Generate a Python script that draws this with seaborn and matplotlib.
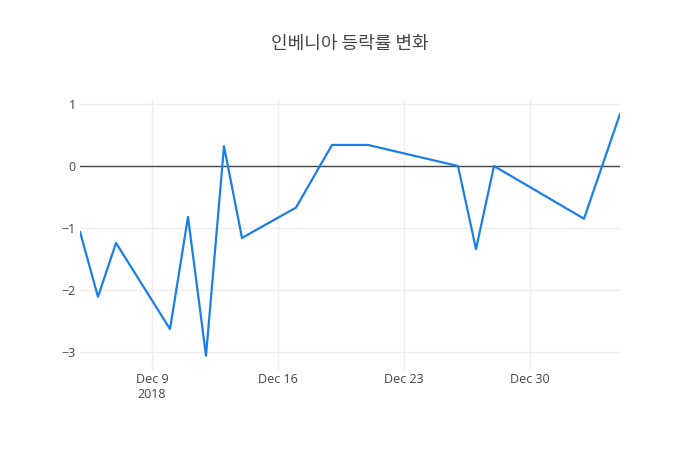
import matplotlib
matplotlib.use("Agg")
import matplotlib.pyplot as plt
import seaborn as sns
import pandas as pd
import numpy as np

dates = ["2018-12-05", "2018-12-06", "2018-12-07", "2018-12-10", "2018-12-11",
         "2018-12-12", "2018-12-13", "2018-12-14", "2018-12-17", "2018-12-19",
         "2018-12-21", "2018-12-26", "2018-12-27", "2018-12-28", "2019-01-02",
         "2019-01-04"]
values = [-1.06, -2.11, -1.24, -2.63, -0.82, -3.06, 0.32, -1.16, -0.67, 0.34,
          0.34, 0.0, -1.34, 0.0, -0.85, 0.84]
tick_dates = ["2018-12-09", "2018-12-16", "2018-12-23", "2018-12-30"]
tick_labels = ["Dec 9\n2018", "Dec 16", "Dec 23", "Dec 30"]
y_ticks = [1, 0, -1, -2, -3]
y_labels = ["1", "0", "−1", "−2", "−3"]
title = "인베니아 등락률 변화"

sns.set_style("white")
plt.rcParams['font.family'] = ['Open Sans', 'Noto Sans CJK KR', 'DejaVu Sans']

df = pd.DataFrame({"date": pd.to_datetime(dates), "value": values})

fig = plt.figure(figsize=(7, 4.5), dpi=100)
ax = fig.add_axes([80/700, 80/450, 540/700, 270/450])

sns.lineplot(data=df, x="date", y="value", ax=ax, color="#1a7fe6", linewidth=1.6)

ax.set_xlim(pd.Timestamp("2018-12-05"), pd.Timestamp("2019-01-04"))
ax.set_ylim(-3.29, 1.065)
ax.set_xticks(pd.to_datetime(tick_dates))
ax.set_xticklabels(tick_labels, linespacing=1.25)
ax.set_yticks(y_ticks)
ax.set_yticklabels(y_labels)
ax.grid(True, color="#eeeeee", linewidth=1)
ax.set_axisbelow(True)
ax.axhline(0, color="#444444", linewidth=1, zorder=1.5)
for s in ax.spines.values():
    s.set_visible(False)
ax.tick_params(axis="both", length=0, labelsize=9, labelcolor="#444444")
ax.tick_params(axis="x", pad=2)
ax.tick_params(axis="y", pad=3)
ax.set_xlabel("")
ax.set_ylabel("")

fig.text(0.5, 1 - 44/450, title, ha="center", va="center", fontsize=13,
         color="#444444", family=['Noto Sans CJK KR', 'DejaVu Sans'])

fig.savefig("out.png", dpi=100)
